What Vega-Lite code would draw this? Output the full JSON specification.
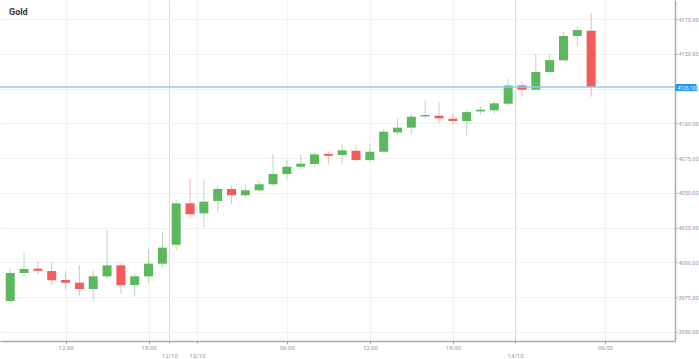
{
  "$schema": "https://vega.github.io/schema/vega-lite/v6.json",
  "width": 675,
  "height": 341,
  "autosize": {"type": "none"},
  "padding": {"left": 0, "top": 0, "right": 24, "bottom": 18},
  "background": "white",
  "title": {"text": "Gold", "anchor": "start", "frame": "group", "font": "Roboto", "fontSize": 9, "fontWeight": "bold", "color": "#333333", "offset": -17, "dx": 9},
  "config": {"view": {"stroke": null}},
  "data": {"values": [
    {"i": 0, "o": 3972.3, "h": 3995.3, "l": 3970.8, "c": 3992.4},
    {"i": 1, "o": 3992.4, "h": 4006.8, "l": 3991.0, "c": 3995.3},
    {"i": 2, "o": 3995.5, "h": 4000.3, "l": 3991.0, "c": 3994.0},
    {"i": 3, "o": 3993.8, "h": 4000.1, "l": 3983.8, "c": 3987.2},
    {"i": 4, "o": 3987.4, "h": 3993.8, "l": 3980.7, "c": 3985.4},
    {"i": 5, "o": 3985.4, "h": 3998.1, "l": 3975.9, "c": 3980.9},
    {"i": 6, "o": 3980.9, "h": 3994.0, "l": 3971.3, "c": 3990.0},
    {"i": 7, "o": 3990.0, "h": 4023.1, "l": 3988.6, "c": 3997.9},
    {"i": 8, "o": 3997.9, "h": 3999.4, "l": 3977.8, "c": 3983.6},
    {"i": 9, "o": 3983.8, "h": 3992.2, "l": 3975.4, "c": 3990.0},
    {"i": 10, "o": 3990.0, "h": 4009.4, "l": 3985.0, "c": 3999.1},
    {"i": 11, "o": 3999.1, "h": 4021.4, "l": 3996.2, "c": 4010.6},
    {"i": 12, "o": 4012.7, "h": 4045.4, "l": 4008.9, "c": 4042.5},
    {"i": 13, "o": 4042.5, "h": 4060.0, "l": 4032.4, "c": 4034.6},
    {"i": 14, "o": 4035.3, "h": 4059.3, "l": 4025.3, "c": 4043.7},
    {"i": 15, "o": 4044.2, "h": 4055.0, "l": 4036.0, "c": 4052.8},
    {"i": 16, "o": 4052.8, "h": 4055.4, "l": 4042.0, "c": 4048.3},
    {"i": 17, "o": 4048.3, "h": 4056.4, "l": 4046.8, "c": 4051.9},
    {"i": 18, "o": 4051.9, "h": 4059.3, "l": 4051.1, "c": 4056.2},
    {"i": 19, "o": 4056.2, "h": 4078.0, "l": 4055.2, "c": 4063.6},
    {"i": 20, "o": 4063.6, "h": 4073.6, "l": 4059.8, "c": 4068.8},
    {"i": 21, "o": 4068.8, "h": 4077.4, "l": 4067.0, "c": 4071.0},
    {"i": 22, "o": 4070.8, "h": 4078.9, "l": 4068.8, "c": 4077.7},
    {"i": 23, "o": 4078.0, "h": 4079.6, "l": 4070.5, "c": 4076.7},
    {"i": 24, "o": 4077.2, "h": 4084.9, "l": 4071.3, "c": 4080.6},
    {"i": 25, "o": 4080.3, "h": 4084.4, "l": 4072.9, "c": 4073.6},
    {"i": 26, "o": 4073.6, "h": 4085.6, "l": 4072.0, "c": 4079.6},
    {"i": 27, "o": 4079.6, "h": 4095.7, "l": 4078.9, "c": 4094.0},
    {"i": 28, "o": 4093.5, "h": 4103.6, "l": 4091.6, "c": 4096.9},
    {"i": 29, "o": 4096.9, "h": 4107.2, "l": 4092.1, "c": 4104.8},
    {"i": 30, "o": 4105.0, "h": 4116.8, "l": 4103.6, "c": 4106.0},
    {"i": 31, "o": 4105.5, "h": 4115.1, "l": 4100.0, "c": 4103.6},
    {"i": 32, "o": 4103.3, "h": 4107.2, "l": 4099.3, "c": 4101.7},
    {"i": 33, "o": 4101.7, "h": 4110.1, "l": 4091.1, "c": 4108.1},
    {"i": 34, "o": 4108.6, "h": 4112.5, "l": 4106.2, "c": 4109.8},
    {"i": 35, "o": 4109.4, "h": 4116.3, "l": 4106.5, "c": 4114.4},
    {"i": 36, "o": 4114.1, "h": 4131.9, "l": 4113.0, "c": 4127.3},
    {"i": 37, "o": 4127.3, "h": 4129.9, "l": 4119.6, "c": 4124.2},
    {"i": 38, "o": 4124.2, "h": 4149.8, "l": 4124.0, "c": 4136.9},
    {"i": 39, "o": 4136.9, "h": 4149.8, "l": 4136.7, "c": 4145.5},
    {"i": 40, "o": 4145.3, "h": 4165.7, "l": 4145.0, "c": 4162.8},
    {"i": 41, "o": 4162.8, "h": 4170.0, "l": 4155.8, "c": 4167.1},
    {"i": 42, "o": 4166.6, "h": 4179.3, "l": 4119.1, "c": 4126.1}
  ]},
  "layer": [
    {
      "mark": {"type": "rule", "strokeWidth": 1, "opacity": 0.45},
      "encoding": {
        "x": {"field": "i", "type": "quantitative",
          "scale": {"domain": [-0.377, 47.7], "nice": false, "zero": false},
          "axis": {
            "values": [4, 10, 11.5, 13.5, 20, 26, 32, 36.5, 43],
            "labelExpr": "datum.value==4||datum.value==26?'12:00':datum.value==10||datum.value==32?'18:00':datum.value==20||datum.value==43?'06:00':datum.value==11.5?['','12/10']:datum.value==13.5?['','13/10']:['','14/10']",
            "title": null,
            "grid": true,
            "gridColor": {"condition": {"test": "datum.value==11.5||datum.value==36.5", "value": "#d8d8d8"}, "value": "#f2f2f2"},
            "domainColor": "#aaaaaa", "domainWidth": 1.5,
            "tickColor": "#aaaaaa", "tickSize": 3,
            "tickDash": {"condition": {"test": "datum.value==11.5||datum.value==13.5||datum.value==36.5", "value": [2, 2]}, "value": []},
            "labelFontSize": 6, "labelColor": "#999999", "labelFont": "Roboto",
            "labelLineHeight": 8, "labelPadding": 0, "labelFlush": false, "labelOverlap": false
          }
        },
        "y": {"field": "l", "type": "quantitative",
          "scale": {"domain": [3943.5, 4188.7], "nice": false, "zero": false},
          "axis": {
            "orient": "right",
            "values": [3950, 3975, 4000, 4025, 4050, 4075, 4100, 4125, 4150, 4175],
            "format": ".2f", "title": null, "grid": true, "gridColor": "#f2f2f2",
            "domainColor": "#aaaaaa", "domainWidth": 1.5,
            "tickColor": "#aaaaaa", "tickSize": 2, "labelPadding": 1,
            "labelFontSize": 5.5, "labelColor": "#999999", "labelFont": "Roboto"
          }
        },
        "y2": {"field": "h"},
        "color": {"condition": {"test": "datum.c >= datum.o", "value": "#5cb85c"}, "value": "#f45b5b"}
      }
    },
    {
      "mark": {"type": "bar", "width": 9},
      "encoding": {
        "x": {"field": "i", "type": "quantitative", "scale": {"domain": [-0.377, 47.7], "nice": false, "zero": false}},
        "y": {"field": "o", "type": "quantitative", "scale": {"domain": [3943.5, 4188.7], "nice": false, "zero": false}, "axis": null},
        "y2": {"field": "c"},
        "color": {"condition": {"test": "datum.c >= datum.o", "value": "#5cb85c"}, "value": "#f45b5b"}
      }
    },
    {
      "data": {"values": [{"p": 4126.1}]},
      "mark": {"type": "rule", "color": "#90caf9", "strokeWidth": 1.5},
      "encoding": {
        "y": {"field": "p", "type": "quantitative",
          "scale": {"domain": [3943.5, 4188.7], "nice": false, "zero": false},
          "axis": {
            "orient": "right", "values": [4126.1], "format": ".2f", "title": null,
            "grid": false, "domain": false,
            "tickColor": "#2196f3", "tickSize": 21, "tickWidth": 7,
            "labelPadding": -19, "labelColor": "white", "labelFontSize": 5, "labelFont": "Roboto",
            "zindex": 2
          }
        }
      }
    }
  ],
  "resolve": {"axis": {"y": "independent"}}
}
